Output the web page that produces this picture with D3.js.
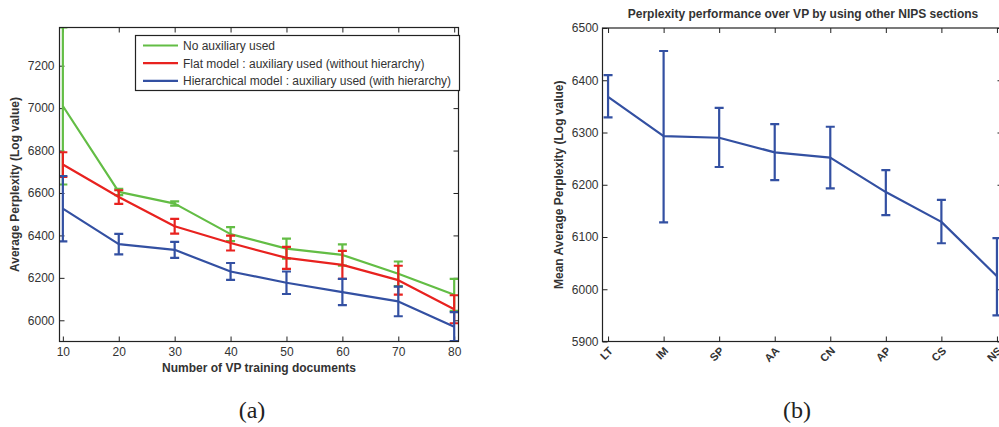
<!DOCTYPE html>
<html><head><meta charset="utf-8">
<script src="https://cdn.jsdelivr.net/npm/d3@7"></script>
<style>
body{margin:0;background:#fff;}
svg{display:block;font-family:"Liberation Sans",Arial,sans-serif;}
</style></head><body>
<svg id="c" width="999" height="427"></svg>
<script>
// ---- Panel (a) data ----
const docCounts = [10, 20, 30, 40, 50, 60, 70, 80];
const seriesNames = ["No auxiliary used", "Flat model : auxiliary used (without hierarchy)", "Hierarchical model : auxiliary used (with hierarchy)"];
const noAuxMean = [7010, 6605, 6550, 6406, 6338, 6308, 6219, 6120];
const noAuxErr  = [370, 15, 10, 33, 47, 50, 58, 75];
const flatMean  = [6734, 6581, 6443, 6364, 6294, 6261, 6189, 6052];
const flatErr   = [58, 32, 35, 35, 52, 66, 68, 66];
const hierMean  = [6526, 6359, 6332, 6230, 6177, 6133, 6089, 5970];
const hierErr   = [154, 48, 38, 40, 53, 62, 70, 68];
const seriesColors = ["#63bd45", "#e8221f", "#3350a2"];
const yTicksA = [6000, 6200, 6400, 6600, 6800, 7000, 7200];

// ---- Panel (b) data ----
const sections = ["LT", "IM", "SP", "AA", "CN", "AP", "CS", "NS"];
const sectionMean = [6368, 6293, 6290, 6262, 6252, 6186, 6129, 6025];
const sectionLow  = [6329, 6128, 6234, 6209, 6193, 6142, 6088, 5950];
const sectionHigh = [6410, 6456, 6347, 6316, 6311, 6228, 6171, 6098];
const yTicksB = [5900, 6000, 6100, 6200, 6300, 6400, 6500];

const svg = d3.select("#c");
const txt = "#333";
const fmt = d3.format("d");

function frame(g, x0, x1, y0, y1) {
  g.append("rect").attr("x", x0).attr("y", y0).attr("width", x1 - x0).attr("height", y1 - y0)
    .attr("fill", "none").attr("stroke", "#222").attr("stroke-width", 1.2);
}
function styleAxis(sel, size) {
  sel.select(".domain").remove();
  sel.selectAll(".tick line").attr("stroke", "#222").attr("stroke-width", 1);
  sel.selectAll(".tick text").attr("fill", txt).attr("font-size", size);
}

// ================= Panel (a) =================
{
  const X0 = 59.5, X1 = 458.5, Y0 = 27.5, Y1 = 341.5;
  const x = d3.scaleLinear().domain([9.4, 80.77]).range([X0, X1]);
  const y = d3.scaleLinear().domain([5900, 7380]).range([Y1, Y0]);
  const g = svg.append("g");
  g.append("defs").append("clipPath").attr("id", "clipA").append("rect")
    .attr("x", X0).attr("y", Y0).attr("width", X1 - X0).attr("height", Y1 - Y0);

  const ax = g.append("g").attr("transform", `translate(0,${Y1})`)
    .call(d3.axisBottom(x).tickValues(docCounts).tickFormat(fmt).tickSizeInner(-5).tickSizeOuter(0).tickPadding(6));
  styleAxis(ax, 12);
  const axT = g.append("g").attr("transform", `translate(0,${Y0})`)
    .call(d3.axisTop(x).tickValues(docCounts).tickSizeInner(-5).tickSizeOuter(0).tickFormat(""));
  styleAxis(axT, 12);
  const ay = g.append("g").attr("transform", `translate(${X0},0)`)
    .call(d3.axisLeft(y).tickValues(yTicksA).tickFormat(fmt).tickSizeInner(-5).tickSizeOuter(0).tickPadding(5));
  styleAxis(ay, 12);
  const ayR = g.append("g").attr("transform", `translate(${X1},0)`)
    .call(d3.axisRight(y).tickValues(yTicksA).tickSizeInner(-5).tickSizeOuter(0).tickFormat(""));
  styleAxis(ayR, 12);

  const series = [
    {m: noAuxMean, e: noAuxErr, c: seriesColors[0]},
    {m: flatMean, e: flatErr, c: seriesColors[1]},
    {m: hierMean, e: hierErr, c: seriesColors[2]}
  ];
  const plot = g.append("g").attr("clip-path", "url(#clipA)");
  const line = d3.line().x((d, i) => x(docCounts[i])).y(d => y(d));
  series.forEach(s => {
    const sg = plot.append("g");
    sg.append("path").datum(s.m).attr("d", line).attr("fill", "none")
      .attr("stroke", s.c).attr("stroke-width", 2.2).attr("stroke-linejoin", "round");
    s.m.forEach((v, i) => {
      const cx = x(docCounts[i]), top = y(v + s.e[i]), bot = y(v - s.e[i]);
      sg.append("line").attr("x1", cx).attr("x2", cx).attr("y1", top).attr("y2", bot)
        .attr("stroke", s.c).attr("stroke-width", 2.2);
      [top, bot].forEach(yy => sg.append("line").attr("x1", cx - 4.5).attr("x2", cx + 4.5)
        .attr("y1", yy).attr("y2", yy).attr("stroke", s.c).attr("stroke-width", 2.2));
    });
  });
  frame(g, X0, X1, Y0, Y1);

  // legend
  const L = g.append("g");
  L.append("rect").attr("x", 135.5).attr("y", 35.5).attr("width", 324).attr("height", 55)
    .attr("fill", "#fff").attr("stroke", "#222").attr("stroke-width", 1.2);
  seriesNames.forEach((n, i) => {
    const yy = 45.5 + i * 17.7;
    L.append("line").attr("x1", 143).attr("x2", 178).attr("y1", yy).attr("y2", yy)
      .attr("stroke", seriesColors[i]).attr("stroke-width", 2.2);
    L.append("text").attr("x", 183).attr("y", yy + 4.3).attr("font-size", 12).attr("fill", txt).text(n);
  });

  g.append("text").attr("x", (X0 + X1) / 2).attr("y", 372).attr("text-anchor", "middle")
    .attr("font-size", 12).attr("font-weight", "bold").attr("fill", txt).text("Number of VP training documents");
  g.append("text").attr("transform", `translate(19,${(Y0 + Y1) / 2}) rotate(-90)`).attr("text-anchor", "middle")
    .attr("font-size", 12).attr("font-weight", "bold").attr("fill", txt).text("Average Perplexity (Log value)");
  g.append("text").attr("x", 252).attr("y", 418).attr("text-anchor", "middle")
    .attr("font-family", "'Liberation Serif','DejaVu Serif',serif").attr("font-size", 24).attr("fill", "#222").text("(a)");
}

// ================= Panel (b) =================
{
  const X0 = 602.5, X1 = 1002.5, Y0 = 28, Y1 = 341.5;
  const x = d3.scaleLinear().domain([0.9, 8.1]).range([X0, X1]);
  const idx = d3.range(1, sections.length + 1);
  const y = d3.scaleLinear().domain([5900, 6500]).range([Y1, Y0]);
  const g = svg.append("g");
  g.append("defs").append("clipPath").attr("id", "clipB").append("rect")
    .attr("x", X0).attr("y", Y0).attr("width", X1 - X0).attr("height", Y1 - Y0);

  const ax = g.append("g").attr("transform", `translate(0,${Y1})`)
    .call(d3.axisBottom(x).tickValues(idx).tickFormat((d) => sections[d - 1]).tickSizeInner(-5).tickSizeOuter(0).tickPadding(6));
  styleAxis(ax, 11);
  ax.selectAll(".tick text").attr("font-weight", "bold").attr("text-anchor", "end")
    .attr("dy", 0).attr("y", 0).attr("transform", "translate(5,10) rotate(-45)");
  const axT = g.append("g").attr("transform", `translate(0,${Y0})`)
    .call(d3.axisTop(x).tickValues(idx).tickSizeInner(-5).tickSizeOuter(0).tickFormat(""));
  styleAxis(axT, 11);
  const ay = g.append("g").attr("transform", `translate(${X0},0)`)
    .call(d3.axisLeft(y).tickValues(yTicksB).tickFormat(fmt).tickSizeInner(-5).tickSizeOuter(0).tickPadding(4));
  styleAxis(ay, 12);
  const ayR = g.append("g").attr("transform", `translate(${X1},0)`)
    .call(d3.axisRight(y).tickValues(yTicksB).tickSizeInner(-5).tickSizeOuter(0).tickFormat(""));
  styleAxis(ayR, 12);

  const c = "#3350a2";
  const plot = g.append("g").attr("clip-path", "url(#clipB)");
  plot.append("path").datum(sectionMean)
    .attr("d", d3.line().x((d, i) => x(idx[i])).y(d => y(d)))
    .attr("fill", "none").attr("stroke", c).attr("stroke-width", 2.2).attr("stroke-linejoin", "round");
  sectionMean.forEach((v, i) => {
    const cx = x(idx[i]), top = y(sectionHigh[i]), bot = y(sectionLow[i]);
    plot.append("line").attr("x1", cx).attr("x2", cx).attr("y1", top).attr("y2", bot)
      .attr("stroke", c).attr("stroke-width", 2.2);
    [top, bot].forEach(yy => plot.append("line").attr("x1", cx - 4.5).attr("x2", cx + 4.5)
      .attr("y1", yy).attr("y2", yy).attr("stroke", c).attr("stroke-width", 2.2));
  });
  frame(g, X0, X1, Y0, Y1);

  g.append("text").attr("x", 803).attr("y", 18).attr("text-anchor", "middle")
    .attr("font-size", 12).attr("font-weight", "bold").attr("fill", txt)
    .text("Perplexity performance over VP by using other NIPS sections");
  g.append("text").attr("transform", `translate(563,${(Y0 + Y1) / 2}) rotate(-90)`).attr("text-anchor", "middle")
    .attr("font-size", 12).attr("font-weight", "bold").attr("fill", txt).text("Mean Average Perplexity (Log value)");
  g.append("text").attr("x", 797).attr("y", 418).attr("text-anchor", "middle")
    .attr("font-family", "'Liberation Serif','DejaVu Serif',serif").attr("font-size", 24).attr("fill", "#222").text("(b)");
}
</script></body></html>
